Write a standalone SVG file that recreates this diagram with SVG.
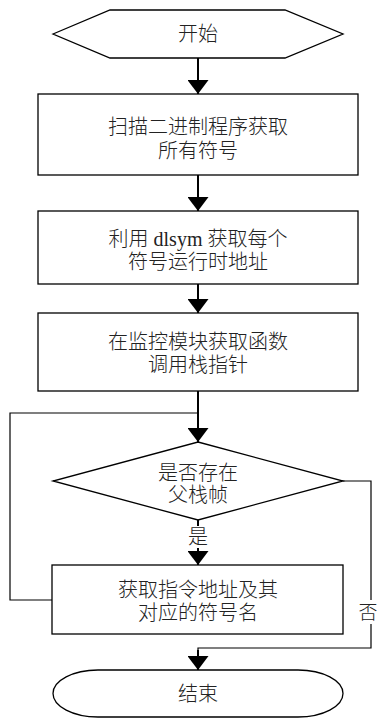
<svg xmlns="http://www.w3.org/2000/svg" width="379" height="718" viewBox="0 0 379 718">
<style>
.shape{fill:#fff;stroke:#000;stroke-width:1.3}
.t{font-family:"Liberation Serif","Noto Sans CJK SC",serif;font-size:20px;font-weight:300;fill:#222;text-anchor:middle;dominant-baseline:central}
.lat{font-family:"Liberation Serif",serif;font-weight:400}
.main{fill:none;stroke:#000;stroke-width:2}
.thin{fill:none;stroke:#000;stroke-width:1.2}
</style>
<defs>
<marker id="ah" markerUnits="userSpaceOnUse" markerWidth="14" markerHeight="21" refX="14" refY="10.5" orient="auto">
<path d="M0,0 L14,10.5 L0,21 z" fill="#000"/>
</marker>
</defs>
<g id="connectors">
<line class="main" x1="198" y1="58" x2="198" y2="94" marker-end="url(#ah)"/>
<line class="main" x1="198" y1="175" x2="198" y2="211" marker-end="url(#ah)"/>
<line class="main" x1="198" y1="284" x2="198" y2="313" marker-end="url(#ah)"/>
<line class="main" x1="198" y1="391" x2="198" y2="442" marker-end="url(#ah)"/>
<polyline class="thin" points="52,600 10,600 10,413 198,413"/>
<line class="main" x1="198" y1="520" x2="198" y2="565" marker-end="url(#ah)"/>
<polyline class="thin" points="343,481 371,481 371,648 198,648 198,652"/>
<line class="main" x1="198" y1="650" x2="198" y2="670" marker-end="url(#ah)"/>
<rect x="188" y="526" width="20" height="22" fill="#fff"/>
<rect x="359" y="600" width="20" height="24" fill="#fff"/>
<text class="t" x="198" y="537">是</text>
<text class="t" x="368" y="612" style="font-size:19px">否</text>
</g>
<g id="start">
<polygon class="shape" points="53,34 110,10 285,10 343,34 285,58 110,58"/>
<text class="t" x="198" y="34">开始</text>
</g>
<g id="scan">
<rect class="shape" x="38" y="94" width="320" height="81"/>
<text class="t" x="198" y="127">扫描二进制程序获取</text>
<text class="t" x="198" y="151">所有符号</text>
</g>
<g id="dlsym">
<rect class="shape" x="38" y="211" width="320" height="73"/>
<text class="t" x="198" y="239">利用 <tspan class="lat">dlsym</tspan> 获取每个</text>
<text class="t" x="198" y="262">符号运行时地址</text>
</g>
<g id="stackptr">
<rect class="shape" x="38" y="313" width="320" height="78"/>
<text class="t" x="198" y="342">在监控模块获取函数</text>
<text class="t" x="198" y="365">调用栈指针</text>
</g>
<g id="decision">
<polygon class="shape" points="198,442 343,481 198,520 53,481"/>
<text class="t" x="198" y="473">是否存在</text>
<text class="t" x="198" y="495">父栈帧</text>
</g>
<g id="getaddr">
<rect class="shape" x="52" y="565" width="291" height="69"/>
<text class="t" x="198" y="590">获取指令地址及其</text>
<text class="t" x="198" y="613">对应的符号名</text>
</g>
<g id="end">
<path class="shape" d="M98,670 L298,670 A45,23.5 0 0 1 298,717 L98,717 A45,23.5 0 0 1 98,670 z"/>
<text class="t" x="198" y="694">结束</text>
</g>
</svg>
